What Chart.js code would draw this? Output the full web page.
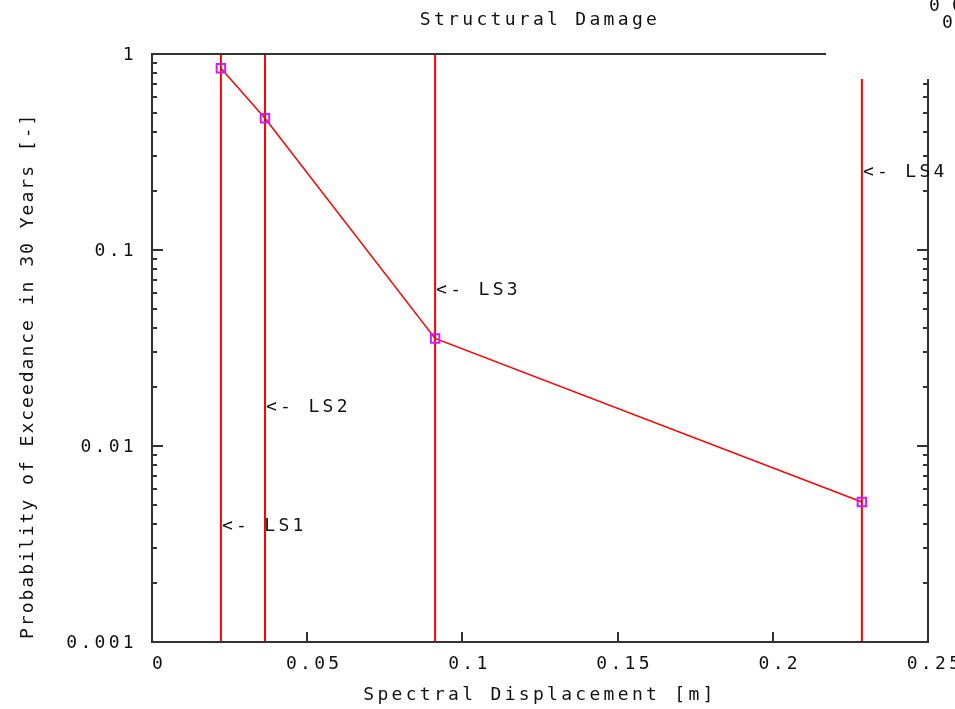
<!DOCTYPE html>
<html lang="en">
<head>
<meta charset="UTF-8" />
<title>Structural Damage</title>
<style>
  * { margin: 0; padding: 0; }
  body { background: #fff; width: 955px; height: 709px; overflow: hidden; }
  canvas { display: block; }
</style>
</head>
<body>
<canvas id="myChart" width="955" height="709"></canvas>
<script src="https://cdn.jsdelivr.net/npm/chart.js"></script>
<script>
  // data
  const sd = [0.0222, 0.0364, 0.0912, 0.2287];        // spectral displacement [m]
  const pe = [0.845, 0.470, 0.0354, 0.00518];          // probability of exceedance
  const lsNames = ["LS1", "LS2", "LS3", "LS4"];
  const lsLabelY = [0.00391, 0.0158, 0.0625, 0.25];    // where the "<- LSn" notes sit

  const xTicks = [0, 0.05, 0.1, 0.15, 0.2, 0.25];
  const xTickLabels = ["0", "0.05", "0.1", "0.15", "0.2", "0.25"];
  const yTicks = [0.001, 0.01, 0.1, 1];
  const yTickLabels = ["0.001", "0.01", "0.1", "1"];
  const yMinorSteps = [2, 3, 4, 5, 6, 7, 8, 9];

  const MONO = '"DejaVu Sans Mono", "Liberation Mono", monospace';
  const FSIZE = 18;
  const SPACING = "3.3px";
  const INK = "#111";
  const RED = "#ff0000";

  const setSpacing = (chart) => {
    chart.ctx.letterSpacing = SPACING;
  };

  // vertical limit-state lines, one dataset each
  const lsSets = sd.map((v, i) => ({
    label: lsNames[i],
    data: [{ x: v, y: yTicks[0] }, { x: v, y: yTicks[yTicks.length - 1] }],
    borderColor: RED,
    borderWidth: 2,
    pointRadius: 0
  }));

  const gnuFrame = {
    id: "gnuFrame",
    beforeLayout: setSpacing,
    beforeDraw: setSpacing,
    afterDraw: (chart) => {
      const {
        ctx,
        chartArea: { top, left, bottom, right },
        scales: { x, y }
      } = chart;
      ctx.save();

      // key area (empty, covers the top-right corner)
      const keyLeft = right - 102;
      const keyBottom = top + 25;
      ctx.fillStyle = "#fff";
      ctx.fillRect(keyLeft, 0, chart.width - keyLeft, keyBottom);

      // border
      ctx.strokeStyle = "#333";
      ctx.lineWidth = 2;
      ctx.beginPath();
      ctx.moveTo(keyLeft, top);
      ctx.lineTo(left, top);
      ctx.lineTo(left, bottom);
      ctx.lineTo(right, bottom);
      ctx.lineTo(right, keyBottom);
      ctx.stroke();

      // y ticks, both sides, pointing inward
      ctx.beginPath();
      const yTick = (v, len) => {
        const py = Math.round(y.getPixelForValue(v));
        if (py > top && py < bottom) {
          ctx.moveTo(left, py);
          ctx.lineTo(left + len, py);
        }
        if (py > keyBottom && py < bottom) {
          ctx.moveTo(right, py);
          ctx.lineTo(right - len, py);
        }
      };
      yTicks.forEach((d, i) => {
        yTick(d, 11);
        if (i < yTicks.length - 1) yMinorSteps.forEach((m) => yTick(d * m, 5));
      });
      // x ticks
      xTicks.forEach((v) => {
        const px = Math.round(x.getPixelForValue(v));
        if (px > left && px < right) {
          ctx.moveTo(px, bottom);
          ctx.lineTo(px, bottom - 10);
        }
      });
      ctx.stroke();

      // limit-state notes
      ctx.font = FSIZE + "px " + MONO;
      ctx.letterSpacing = SPACING;
      ctx.fillStyle = INK;
      ctx.textBaseline = "middle";
      ctx.textAlign = "left";
      sd.forEach((v, i) => {
        ctx.fillText(
          "<- " + lsNames[i],
          x.getPixelForValue(v) + 1,
          y.getPixelForValue(lsLabelY[i])
        );
      });

      // cut-off key text
      ctx.fillText("0", right + 1, 6);
      ctx.fillText("0", right + 24, 6);
      ctx.fillText("0", right + 14, 23);

      // y axis title
      ctx.letterSpacing = "2px";
      ctx.translate(28, bottom - 3);
      ctx.rotate(-Math.PI / 2);
      ctx.fillText("Probability of Exceedance in 30 Years [-]", 0, 0);

      ctx.restore();
    }
  };

  const tickFont = { family: MONO, size: FSIZE };

  const config = {
    type: "line",
    data: {
      datasets: [
        {
          label: "Structural Damage",
          data: sd.map((v, i) => ({ x: v, y: pe[i] })),
          borderColor: RED,
          borderWidth: 1.5,
          pointStyle: "rect",
          pointRadius: 6,
          pointBorderWidth: 2,
          pointBorderColor: "#c81eff",
          pointBackgroundColor: "rgba(0,0,0,0)"
        },
        ...lsSets
      ]
    },
    options: {
      responsive: false,
      devicePixelRatio: 1,
      animation: false,
      layout: { padding: { left: 0, right: 27, top: 0, bottom: 0 } },
      plugins: {
        legend: { display: false },
        tooltip: { enabled: false },
        title: {
          display: true,
          fullSize: false,
          text: "Structural Damage",
          color: INK,
          font: { family: MONO, size: FSIZE, weight: "normal" },
          padding: { top: 9.5, bottom: 22.9 }
        }
      },
      scales: {
        x: {
          type: "linear",
          min: 0,
          max: 0.25,
          grid: { display: false, drawTicks: false },
          border: { display: false },
          afterBuildTicks: (s) => {
            s.ticks = xTicks.map((v) => ({ value: v }));
          },
          afterFit: (s) => {
            s.height = 67;
            s.paddingLeft = 0;
            s.paddingRight = 0;
          },
          ticks: {
            color: INK,
            font: tickFont,
            padding: 12,
            labelOffset: 7,
            maxRotation: 0,
            autoSkip: false,
            callback: (v, i) => xTickLabels[i]
          },
          title: {
            display: true,
            text: "Spectral Displacement [m]",
            color: INK,
            font: tickFont,
            padding: { top: 0, bottom: 2.5 }
          }
        },
        y: {
          type: "logarithmic",
          min: 0.001,
          max: 1,
          grid: { display: false, drawTicks: false },
          border: { display: false },
          afterBuildTicks: (s) => {
            s.ticks = yTicks.map((v) => ({ value: v }));
          },
          afterFit: (s) => {
            s.width = 152;
            s.paddingTop = 0;
            s.paddingBottom = 0;
          },
          ticks: {
            color: INK,
            font: tickFont,
            padding: 15,
            labelOffset: 1,
            autoSkip: false,
            callback: (v, i) => yTickLabels[i]
          }
        }
      }
    },
    plugins: [gnuFrame]
  };

  const myChart = new Chart(document.getElementById("myChart"), config);
</script>
</body>
</html>
